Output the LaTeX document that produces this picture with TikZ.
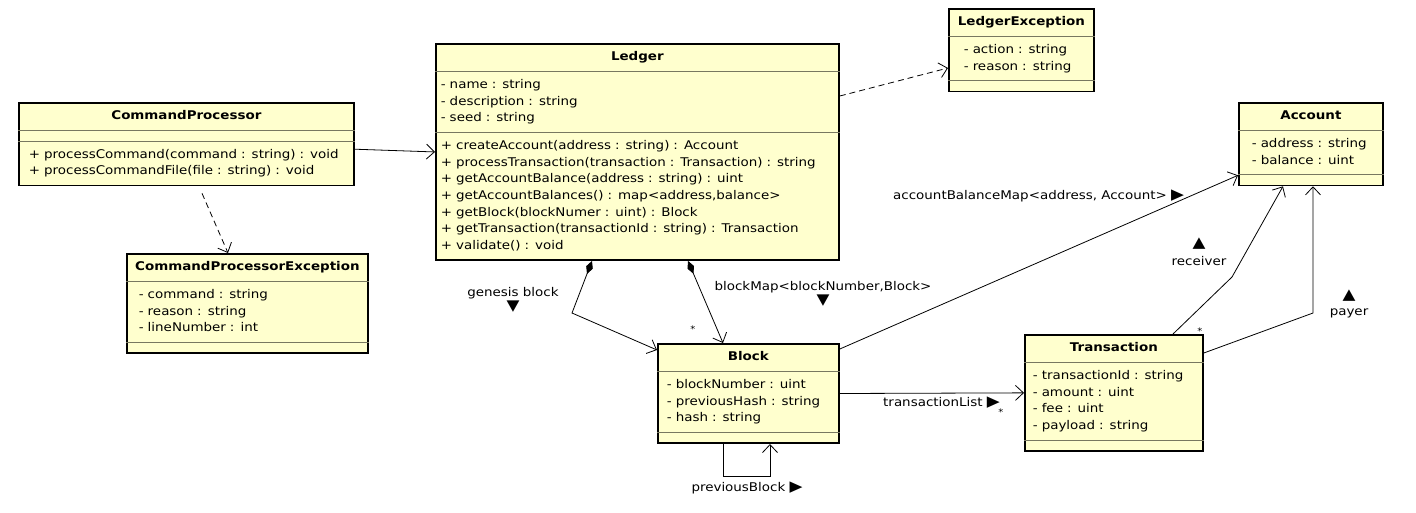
\documentclass[tikz,border=0pt]{standalone}
\usepackage{fontspec}
\setmainfont{DejaVu Sans}[FakeStretch=1.12]
\usetikzlibrary{shapes.multipart,arrows.meta}

\definecolor{classfill}{RGB}{255,255,206}
\definecolor{sepgray}{RGB}{120,120,96}

\newcommand{\classname}[1]{\makebox[\hsize]{\textbf{#1}\strut}}
\newcommand{\tri}[1]{{\fontsize{15}{15}\selectfont #1}}

\tikzset{
  umlclass/.style={rectangle split, rectangle split parts=3,
    rectangle split draw splits=false,
    rectangle split empty part height=2pt,
    draw=black, line width=1.8pt, fill=classfill,
    anchor=north west, inner ysep=4.5pt, align=left,
    font=\fontsize{12}{16.7}\selectfont},
  splitline/.style={draw=sepgray, line width=0.8pt},
  assoc/.style={draw=black, line width=0.8pt, -{Straight Barb[length=8pt,width=15pt]}},
  depend/.style={assoc, dash pattern=on 6pt off 4pt},
  compose/.style={assoc, {Diamond[length=14pt,width=7pt]}-{Straight Barb[length=8pt,width=15pt]}},
  rolelabel/.style={font=\fontsize{12}{14}\selectfont, inner sep=0pt, align=center},
  multlabel/.style={font=\fontsize{9}{9}\selectfont, inner sep=0pt},
}

\begin{document}
\begin{tikzpicture}[x=1pt,y=-1pt]
  \path[use as bounding box, fill=white] (0,0) rectangle (1416,512);

  % Classes
  \node[umlclass, text width=315pt, inner xsep=10pt] (cmd) at (18,102) {\classname{CommandProcessor}
    \nodepart{second}
    \nodepart{third}\strut+ processCommand(command : string) : void\\
      + processCommandFile(file : string) : void\strut};

  \node[umlclass, text width=217pt, inner xsep=12pt] (cmdex) at (126,253) {\classname{CommandProcessorException}
    \nodepart{second}\strut- command : string\\- reason : string\\- lineNumber : int\strut
    \nodepart{third}};

  \node[umlclass, text width=393pt, inner xsep=5pt] (ledger) at (435,43) {\classname{Ledger}
    \nodepart{second}\strut- name : string\\- description : string\\- seed : string\strut
    \nodepart{third}\strut+ createAccount(address : string) : Account\\
      + processTransaction(transaction : Transaction) : string\\
      + getAccountBalance(address : string) : uint\\
      + getAccountBalances() : map<address,balance>\\
      + getBlock(blockNumer : uint) : Block\\
      + getTransaction(transactionId : string) : Transaction\\
      + validate() : void\strut};

  \node[umlclass, text width=115pt, inner xsep=15pt] (ledgerex) at (948,8) {\classname{LedgerException}
    \nodepart{second}\strut- action : string\\- reason : string\strut
    \nodepart{third}};

  \node[umlclass, text width=118pt, inner xsep=13pt] (account) at (1238,102) {\classname{Account}
    \nodepart{second}\strut- address : string\\- balance : uint\strut
    \nodepart{third}};

  \node[umlclass, text width=163pt, inner xsep=9pt] (block) at (657,343) {\classname{Block}
    \nodepart{second}\strut- blockNumber : uint\\- previousHash : string\\- hash : string\strut
    \nodepart{third}};

  \node[umlclass, text width=162pt, inner xsep=8pt] (transaction) at (1024,334) {\classname{Transaction}
    \nodepart{second}\strut- transactionId : string\\- amount : uint\\- fee : uint\\- payload : string\strut
    \nodepart{third}};

  % Separators
  \foreach \c in {cmd,cmdex,ledger,ledgerex,account,block,transaction}
    \draw[splitline] (\c.text split west) -- (\c.text split east)
                     (\c.two split west) -- (\c.two split east);

  % Dependencies
  \draw[depend] ([xshift=184pt,yshift=-7pt]cmd.south west) -- ([xshift=102pt]cmdex.north west);
  \draw[depend] ([yshift=-53pt]ledger.north east) -- ([yshift=-60pt]ledgerex.north west);

  % Associations
  \draw[assoc] ([yshift=-8pt]cmd.two split east) -- (ledger.west);

  \coordinate (genesisbend) at (572,313);
  \draw[compose] ([xshift=157pt]ledger.south west) -- (genesisbend) -- ([yshift=-7pt]block.north west);
  \draw[compose] ([xshift=253pt]ledger.south west) -- ([xshift=66pt]block.north west);

  \draw[assoc] ([yshift=-6pt]block.north east) -- ([yshift=11pt]account.south west);
  \draw[assoc] (block.east) -- (transaction.west);
  \draw[assoc] ([xshift=66pt]block.south west) -- ++(0,32) -| ([xshift=113pt]block.south west);

  \coordinate (receiverbend) at (1232,277);
  \draw[assoc] ([xshift=149pt]transaction.north west) -- (receiverbend) -- ([xshift=45pt]account.south west);
  \coordinate (payerbend) at (1313,313);
  \draw[assoc] ([yshift=-19pt]transaction.north east) -- (payerbend) -- ([xshift=75pt]account.south west);

  % Role names and multiplicities
  \node[rolelabel] (genesislabel) at (513,300) {genesis block\\\tri{▼}};
  \node[rolelabel] (blockmaplabel) at (823,294) {blockMap<blockNumber,Block>\\\tri{▼}};
  \node[rolelabel, anchor=west] (balancelabel) at (893,196) {accountBalanceMap<address, Account> \tri{▶}};
  \node[rolelabel, anchor=west] (translabel) at (883,403) {transactionList \tri{▶}};
  \node[rolelabel] (receiverlabel) at (1199,252) {\tri{▲}\\[4pt]receiver};
  \node[rolelabel] (payerlabel) at (1349,304) {\tri{▲}\\[2pt]payer};
  \node[rolelabel] (prevlabel) at (747,488) {previousBlock \tri{▶}};
  \node[multlabel] (blockmult) at (693,329) {*};
  \node[multlabel] (transmult) at (1001,412) {*};
  \node[multlabel] (receivermult) at (1200,331) {*};
\end{tikzpicture}
\end{document}
